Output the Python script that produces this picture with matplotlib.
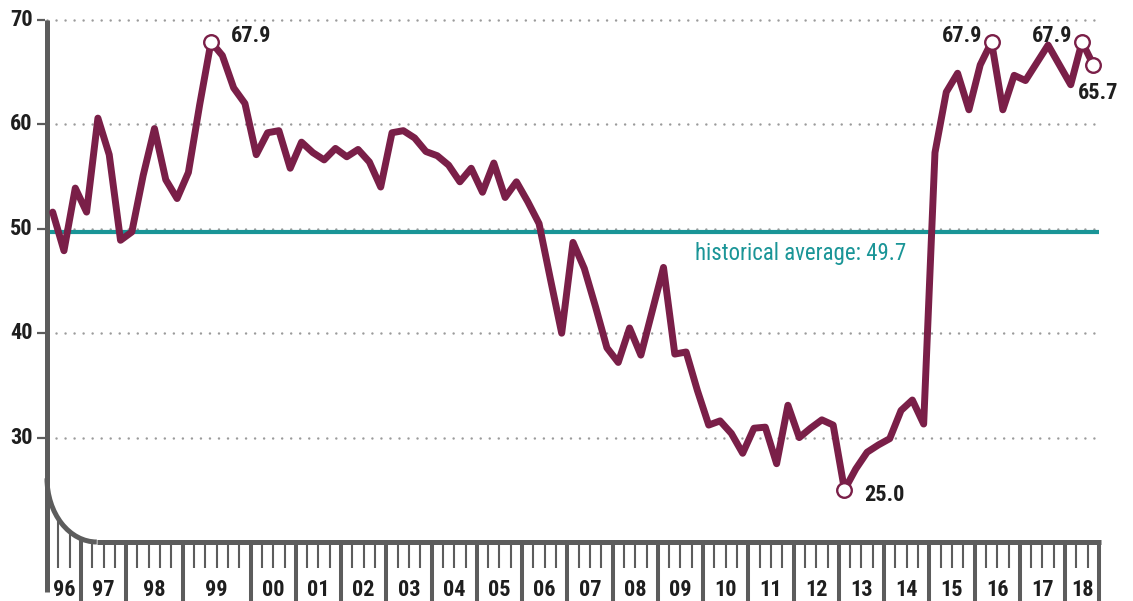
import numpy as np
import matplotlib
matplotlib.use('Agg')
import matplotlib.pyplot as plt
from matplotlib.patches import Arc
from matplotlib import font_manager

# 取一个窄体字体（找不到就退回 DejaVu Sans）
installed = {f.name for f in font_manager.fontManager.ttflist}
font_name = 'DejaVu Sans'
for cand in ['Liberation Sans Narrow', 'Roboto Condensed', 'Open Sans Condensed', 'Liberation Sans']:
    if cand in installed:
        font_name = cand
        break
plt.rcParams['font.family'] = [font_name, 'DejaVu Sans']

# 数据：每个季度（调查）一个值
values = [
    51.6, 47.9, 53.9, 51.6, 60.6, 57.1, 48.9, 49.7, 55.1, 59.6,
    54.7, 52.9, 55.4, 61.9, 67.9, 66.6, 63.5, 62.0, 57.1, 59.2,
    59.4, 55.8, 58.3, 57.3, 56.6, 57.7, 56.9, 57.6, 56.4, 54.0,
    59.2, 59.4, 58.7, 57.4, 57.0, 56.1, 54.5, 55.8, 53.5, 56.3,
    53.0, 54.5, 52.6, 50.5, 45.2, 40.0, 48.7, 46.2, 42.5, 38.6,
    37.2, 40.5, 37.9, 42.1, 46.3, 38.0, 38.2, 34.5, 31.2, 31.6,
    30.4, 28.5, 30.9, 31.0, 27.5, 33.1, 30.0, 30.9, 31.7, 31.2,
    25.0, 27.0, 28.6, 29.3, 29.9, 32.6, 33.6, 31.3, 57.3, 63.1,
    64.9, 61.4, 65.7, 67.9, 61.4, 64.7, 64.2, 65.9, 67.6, 65.7,
    63.8, 67.9, 65.7]
years = ['96', '97', '98', '99', '00', '01', '02', '03', '04', '05', '06', '07',
         '08', '09', '10', '11', '12', '13', '14', '15', '16', '17', '18']
year_counts = [3, 4, 5, 6] + [4] * 18 + [3]
hist_avg = 49.7
y_ticks = [30, 40, 50, 60, 70]
# 要标数值的点
marked = [14, 70, 83, 91, 92]

line_color = '#7a1f48'
teal = '#1a9597'
gray = '#5c5c5c'
text_color = '#1e1e1e'

n = len(values)
x = np.arange(n) + 0.5
bounds = np.concatenate([[0], np.cumsum(year_counts)])
x_end = bounds[-1]

fig = plt.figure(figsize=(11.33, 6.01), dpi=100)
ax = fig.add_axes([47 / 1133, 1 - 542 / 601, 1052 / 1133, 522 / 601])
ax.set_xlim(0, x_end)
ax.set_ylim(20, 70)
ax.axis('off')

# 网格虚线和 y 轴刻度
for v in y_ticks:
    ax.plot([0, x_end], [v, v], color='#9b9b9b', lw=1.8, ls=(0, (0.01, 3.6)),
            dash_capstyle='round', clip_on=False, zorder=1)
    ax.plot([-0.88, -0.15], [v, v], color=gray, lw=1.6, clip_on=False, solid_capstyle='butt')
    ax.text(-1.25, v, str(v), ha='right', va='center', fontsize=16,
            fontweight='bold', color=text_color)

# 历史平均线
ax.plot([0, x_end], [hist_avg, hist_avg], color=teal, lw=3, zorder=2, solid_capstyle='butt')
ax.text(57.3, hist_avg - 2.1, 'historical average: %.1f' % hist_avg, color=teal,
        fontsize=16.5, ha='left', va='center')

# 主线
ax.plot(x, values, color=line_color, lw=5, solid_joinstyle='round',
        solid_capstyle='round', zorder=4, clip_on=False)
for i in marked:
    ax.plot(x[i], values[i], 'o', ms=10.5, mfc='white', mec=line_color, mew=1.7,
            zorder=5, clip_on=False)

offsets = {14: ((14, 4), 'left'), 70: ((14, -4), 'left'), 83: ((-7, 4), 'right'),
           91: ((-7, 4), 'right'), 92: ((-11, -20), 'left')}
for i in marked:
    off, ha = offsets[i]
    ax.annotate('%.1f' % values[i], (x[i], values[i]), xytext=off, textcoords='offset points',
                ha=ha, va='center', fontsize=16, fontweight='bold', color=text_color, zorder=6)

# 底部“尺子”坐标轴
rx, ry = 4.4, 6.1
ax.plot([0, 0], [15.2, 70], color=gray, lw=3.6, clip_on=False, solid_capstyle='butt', zorder=3)
ax.plot([rx, x_end + 0.15], [20, 20], color=gray, lw=3.6, clip_on=False, solid_capstyle='butt', zorder=3)
ax.add_patch(Arc((rx, 20 + ry), 2 * rx, 2 * ry, theta1=180, theta2=270, color=gray,
                 lw=3.6, clip_on=False, zorder=3))


def axis_top(px):
    if px < rx:
        return 20 + ry - ry * np.sqrt(max(0.0, 1 - ((px - rx) / rx) ** 2))
    return 20


for b in bounds[1:]:
    ax.plot([b, b], [axis_top(b), 12], color=gray, lw=2.9, clip_on=False, solid_capstyle='butt')
for t in range(1, x_end):
    if t in bounds:
        continue
    ax.plot([t, t], [axis_top(t), 17.5], color=gray, lw=1.5, clip_on=False, solid_capstyle='butt')

for k, lab in enumerate(years):
    mid = (bounds[k] + bounds[k + 1]) / 2
    ax.text(mid, 15.4, lab, ha='center', va='center', fontsize=16, fontweight='bold',
            color=text_color)

fig.savefig('out.png', dpi=100)
